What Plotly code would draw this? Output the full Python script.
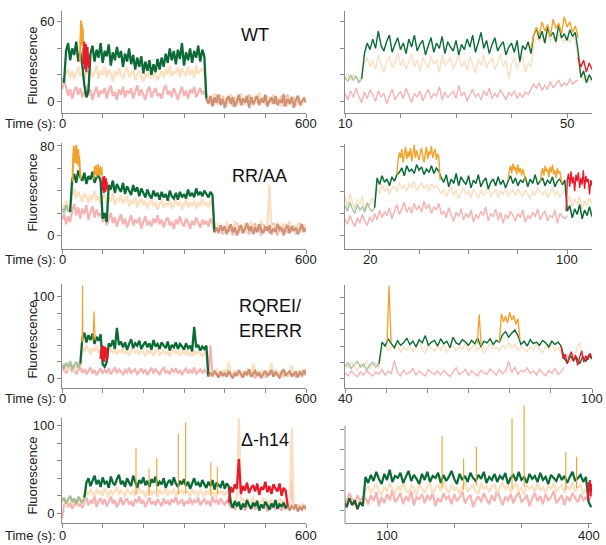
import plotly.graph_objects as go

W, H = 606, 545
FONT = "Arial, 'Liberation Sans', sans-serif"

# trace colours
GREEN = "#0B6A36"
PALE = "rgba(118,160,120,0.6)"
OLIVE = "#2F5A34"
TAIL = "rgba(196,128,98,0.8)"
PEACH = "#FADFC0"
PINK = "#F4B4B4"
ORANGE = "#F1A22C"
RED = "#E81A2B"
AXIS = "#8A8A8A"

# ---------------- WT ----------------
WT_L_T0, WT_L_DT = 0, 5
WT_L_GREEN = [17, 14, 38, 44, 31, 40, 35, 45, 30, 37,
              27, 12, 3, 8, 36, 42, 30, 39, 33, 44,
              29, 38, 34, 43, 27, 37, 31, 41, 33, 38,
              26, 36, 30, 40, 28, 35, 24, 33, 26, 34,
              21, 30, 23, 31, 20, 28, 22, 32, 24, 33,
              26, 36, 29, 40, 31, 38, 28, 39, 32, 44,
              27, 37, 31, 40, 29, 38, 33, 42, 30, 39,
              34, 2, -2, 4, -4, 3, -1, 5, -3, 2,
              -5, 1, 4, -2, 3, -4, 0, 5, -3, 2,
              -1, 4, -5, 3, -2, 1, 4, -3, 2, -1,
              5, -4, 0, 3, -2, 4, -3, 1, -1, 5,
              -4, 2, -2, 3, -5, 1, 4, -3, 0, 2, -1]
WT_L_PEACH = [13, 19, 21, 24, 18, 23, 17, 22, 26, 19,
              21, 16, 24, 20, 25, 18, 22, 27, 17, 23,
              20, 26, 18, 24, 21, 15, 23, 19, 25, 20,
              17, 22, 26, 18, 21, 24, 16, 20, 23, 18,
              15, 21, 18, 24, 17, 20, 22, 16, 19, 23,
              18, 24, 20, 27, 19, 23, 21, 26, 18, 25,
              22, 19, 26, 20, 24, 18, 27, 21, 23, 25,
              20, 1, 4, -2, 3, 6, -3, 2, 5, -1,
              3, -4, 2, 5, -1, 4, -3, 1, 6, -2,
              2, 5, -3, 0, 4, -2, 3, 7, -1, 2,
              -3, 4, 1, -2, 5, 0, 3, -4, 2, 6,
              -1, 3, -3, 4, 1, -2, 5, 0, -4, 3, 1]
WT_L_PINK = [9, 15, 11, 4, 9, 2, 8, 11, 5, 10,
             3, 7, 12, 4, 9, 1, 7, 11, 3, 8,
             6, 10, 2, 8, 12, 4, 7, 1, 9, 5,
             11, 3, 8, 6, 10, 2, 7, 12, 4, 9,
             5, 1, 8, 11, 3, 7, 10, 4, 6, 2,
             9, 12, 5, 8, 3, 10, 6, 1, 7, 11,
             4, 8, 2, 9, 6, 11, 3, 7, 10, 5,
             8, 3, -1, 4, -3, 2, 5, -2, 1, 4,
             -2, 3, 0, 5, -4, 2, -1, 4, 1, -3,
             3, -1, 5, 2, -3, 4, 0, -2, 3, 1,
             4, -3, 2, 0, 5, -2, 3, -1, 4, -4,
             2, 5, -2, 1, 3, -3, 4, 0, -1, 3, 0]
WT_L_BIND, WT_L_STOP = 5, 355
WT_L_ORANGE_T = [44, 45, 46, 47, 48, 49, 50, 51, 52, 53]
WT_L_ORANGE_V = [30, 44, 52, 61, 48, 58, 42, 55, 46, 34]
WT_L_RED_T = [52, 53, 54, 55, 56, 57, 58, 59, 60, 61, 62, 63, 64, 65, 66, 67, 68]
WT_L_RED_V = [28, 40, 33, 45, 24, 38, 30, 43, 22, 36, 27, 41, 31, 35, 25, 33, 29]

WT_R_T0, WT_R_DT = 10, 0.5
WT_R_GREEN = [18, 15, 20, 16, 19, 14, 17, 36, 44, 39,
              47, 40, 53, 42, 38, 45, 50, 37, 43, 48,
              39, 44, 36, 47, 41, 50, 38, 43, 46, 35,
              42, 48, 37, 44, 40, 49, 36, 45, 41, 38,
              46, 35, 43, 39, 47, 41, 50, 37, 44, 52,
              40, 46, 36, 43, 48, 38, 42, 45, 35, 41,
              44, 37, 46, 30, 42, 39, 45, 36, 50, 55,
              47, 53, 44, 56, 49, 52, 45, 58, 48, 51,
              46, 54, 49, 52, 38, 18, 23, 14, 20, 16]
WT_R_PEACH = [17, 21, 16, 20, 18, 15, 19, 28, 33, 26,
              31, 24, 35, 28, 22, 30, 34, 25, 29, 37,
              27, 32, 24, 30, 36, 26, 31, 23, 33, 29,
              25, 34, 28, 31, 22, 35, 27, 30, 33, 24,
              29, 36, 26, 31, 23, 34, 28, 21, 32, 27,
              35, 25, 30, 33, 24, 29, 36, 26, 31, 17,
              28, 33, 25, 30, 34, 22, 29, 26, 42, 48,
              45, 50, 44, 52, 46, 49, 43, 51, 47, 45,
              49, 44, 50, 46, 30, 20, 16, 19, 15, 18]
WT_R_PINK = [6, 1, 8, 3, 10, 4, -1, 7, 2, 9,
             5, 0, 8, 3, 6, -2, 4, 9, 1, 5,
             7, 2, 10, 4, -1, 6, 3, 8, 0, 5,
             9, 2, 6, 4, 11, 1, 7, 3, 5, 8,
             2, 12, 4, 7, 0, 5, 9, 3, 6, 1,
             8, 4, 10, 2, 6, 3, 9, 5, 1, 7,
             4, 8, 2, 6, 3, 7, 5, 9, 13, 10,
             14, 8, 12, 9, 15, 10, 13, 16, 11, 14,
             12, 17, 13, 15, 16]
WT_R_BIND, WT_R_STOP = 13.0, None
WT_R_ORANGE_T = [43.5, 44, 44.5, 45, 45.5, 46, 46.5, 47, 47.5, 48, 48.5, 49,
                 49.5, 50, 50.5, 51, 51.5, 52]
WT_R_ORANGE_V = [40, 50, 56, 50, 60, 53, 58, 49, 62, 55, 59, 51, 64, 56, 60, 52, 57, 48]
WT_R_RED_T = [52, 52.5, 53, 53.5, 54, 54.5]
WT_R_RED_V = [33, 26, 31, 22, 29, 24]

# ---------------- RR/AA ----------------
RR_L_T0, RR_L_DT = 0, 5
RR_L_GREEN = [24, 20, 27, 22, 21, 50, 55, 47, 58, 52,
              49, 56, 46, 53, 50, 57, 47, 52, 54, 48,
              15, 20, 12, 45, 41, 49, 38, 46, 42, 39,
              47, 37, 44, 40, 36, 45, 39, 43, 35, 42,
              38, 34, 41, 36, 33, 40, 35, 38, 32, 39,
              34, 37, 31, 40, 35, 33, 38, 32, 39, 34,
              37, 33, 41, 35, 38, 34, 42, 36, 39, 35,
              40, 37, 34, 39, 36, 3, 7, 2, 9, 4,
              8, 1, 6, 10, 3, 7, 0, 5, 9, 2,
              6, 11, 4, 8, 1, 7, 3, 10, 5, 2,
              8, 4, 9, 1, 6, 3, 10, 5, 7, 0,
              6, 9, 2, 8, 4, 7, 1, 5, 10, 3, 6]
RR_L_PEACH = [28, 22, 31, 24, 26, 36, 42, 33, 39, 35,
              30, 38, 34, 29, 36, 32, 40, 31, 35, 28,
              33, 37, 29, 34, 30, 38, 27, 33, 31, 36,
              28, 32, 35, 26, 31, 29, 34, 25, 30, 33,
              27, 31, 24, 29, 33, 26, 30, 23, 28, 32,
              25, 29, 27, 31, 24, 28, 33, 26, 30, 23,
              28, 32, 25, 29, 27, 31, 24, 30, 26, 33,
              27, 29, 25, 31, 28, 8, 3, 11, 5, 9,
              2, 12, 6, 9, 4, 13, 7, 1, 10, 5,
              11, 3, 8, 12, 5, 2, 9, 6, 13, 4,
              7, 10, 45, 3, 9, 6, 12, 2, 8, 11,
              4, 9, 13, 5, 7, 2, 11, 6, 3, 10, 7]
RR_L_PINK = [14, 19, 10, 17, 12, 22, 28, 18, 25, 15,
             24, 19, 27, 14, 21, 26, 16, 23, 18, 20,
             12, 17, 9, 15, 20, 11, 16, 8, 14, 19,
             10, 15, 7, 13, 18, 9, 14, 11, 16, 6,
             12, 17, 9, 13, 8, 15, 11, 18, 10, 14,
             7, 13, 16, 9, 12, 6, 14, 10, 17, 11,
             8, 15, 12, 6, 13, 9, 16, 11, 7, 14,
             10, 13, 8, 15, 11, 2, 7, 4, 9, 1,
             6, 10, 3, 8, 0, 7, 11, 4, 9, 2,
             8, 5, 1, 9, 6, 11, 3, 7, 0, 10,
             4, 8, 2, 7, 11, 5, 0, 9, 3, 6,
             10, 2, 7, 4, 9, 1, 6, 11, 3, 8, 5]
RR_L_BIND, RR_L_STOP = 20, 375
RR_L_ORANGE1_T = list(range(26, 47))
RR_L_ORANGE1_V = [48, 66, 74, 80, 70, 78, 65, 76, 69, 81, 72, 64, 75, 68, 77, 62,
                  71, 66, 60, 55, 50]
RR_L_ORANGE2_T = list(range(78, 100))
RR_L_ORANGE2_V = [50, 58, 62, 54, 60, 56, 63, 52, 59, 61, 55, 64, 57, 53, 60, 58,
                  62, 54, 59, 56, 61, 52]
RR_L_RED_T = list(range(99, 113))
RR_L_RED_V = [44, 52, 40, 49, 38, 53, 42, 47, 39, 51, 43, 48, 41, 45]

RR_R_T0, RR_R_DT = 10, 1
RR_R_GREEN = [27, 22, 30, 24, 20, 28, 23, 26, 21, 29,
              24, 22, 25, 52, 46, 54, 48, 51, 45, 53,
              49, 55, 57, 61, 54, 63, 58, 60, 56, 64,
              59, 62, 55, 60, 57, 63, 56, 61, 58, 52,
              48, 55, 44, 51, 47, 56, 45, 53, 49, 46,
              54, 43, 50, 47, 55, 44, 49, 52, 42, 48,
              51, 45, 53, 46, 50, 43, 49, 54, 47, 52,
              45, 50, 48, 53, 44, 51, 47, 55, 46, 49,
              52, 45, 50, 47, 53, 44, 49, 51, 46, 50,
              22, 27, 16, 24, 19, 28, 15, 23, 18, 26, 17]
RR_R_PEACH = [35, 26, 38, 30, 24, 33, 28, 36, 22, 31,
              27, 34, 29, 43, 38, 46, 40, 44, 37, 42,
              45, 39, 48, 42, 46, 40, 47, 43, 49, 41,
              44, 48, 42, 46, 40, 47, 43, 45, 41, 38,
              42, 35, 40, 44, 36, 41, 33, 39, 43, 37,
              40, 34, 42, 38, 33, 41, 36, 39, 44, 35,
              38, 42, 34, 40, 37, 43, 35, 39, 41, 36,
              42, 38, 35, 41, 37, 33, 40, 36, 43, 39,
              37, 41, 34, 39, 43, 36, 40, 35, 38, 42,
              30, 36, 26, 33, 28, 35, 24, 31, 27, 34, 29]
RR_R_PINK = [15, 10, 18, 12, 8, 16, 11, 19, 13, 9,
             17, 12, 20, 14, 23, 16, 21, 18, 25, 15,
             22, 28, 19, 24, 30, 21, 26, 20, 29, 23,
             27, 21, 31, 24, 28, 20, 26, 23, 29, 19,
             22, 16, 25, 18, 13, 21, 17, 24, 14, 20,
             16, 23, 12, 19, 15, 22, 18, 26, 13, 20,
             17, 24, 14, 21, 11, 19, 15, 22, 18, 13,
             20, 16, 23, 12, 18, 15, 21, 17, 24, 14,
             19, 22, 13, 18, 16, 23, 11, 20, 17, 15, 18]
RR_R_BIND, RR_R_STOP = 22, None
RR_R_ORANGE1_T = [31 + 0.5 * k for k in range(36)]
RR_R_ORANGE1_V = [55, 68, 75, 70, 78, 66, 73, 80, 69, 76, 71, 79, 67, 74, 82, 70, 77, 72,
                  68, 75, 79, 71, 66, 74, 80, 69, 76, 73, 81, 70, 75, 78, 68, 74, 71, 50]
RR_R_ORANGE2_T = [76 + 0.5 * k for k in range(15)]
RR_R_ORANGE2_V = [50, 58, 63, 56, 65, 59, 62, 55, 64, 57, 61, 54, 60, 56, 49]
RR_R_ORANGE3_T = [89 + 0.5 * k for k in range(19)]
RR_R_ORANGE3_V = [49, 56, 61, 54, 63, 58, 60, 53, 62, 57, 64, 55, 59, 52, 61, 56, 58, 50, 47]
RR_R_RED_T = [99.5 + 0.5 * k for k in range(22)]
RR_R_RED_V = [22, 50, 56, 44, 58, 47, 53, 40, 55, 49, 57, 43, 52, 46, 59, 42, 54, 48,
              51, 37, 50, 45]

# ---------------- RQREI/ERERR ----------------
RQ_L_T0, RQ_L_DT = 0, 5
RQ_L_GREEN = [17, 12, 19, 14, 21, 11, 16, 20, 13, 18,
              49, 56, 44, 53, 47, 55, 42, 51, 46, 54,
              17, 14, 20, 43, 39, 47, 36, 62, 41, 45,
              38, 44, 35, 42, 48, 37, 43, 40, 46, 36,
              41, 45, 38, 43, 35, 47, 39, 42, 36, 44,
              40, 37, 45, 34, 41, 38, 44, 36, 42, 39,
              35, 43, 37, 40, 33, 63, 38, 41, 34, 39,
              36, 40, 2, 7, 3, 9, 5, 1, 8, 4,
              6, 2, 9, 4, 0, 7, 3, 10, 5, 1,
              8, 4, 11, 2, 6, 9, 3, 7, 0, 5,
              9, 3, 6, 10, 2, 8, 4, 1, 7, 11,
              3, 6, 9, 2, 5, 8, 1, 7, 4, 10, 5]
RQ_L_PEACH = [12, 18, 9, 15, 11, 17, 8, 14, 19, 13,
              38, 33, 41, 35, 29, 37, 34, 40, 31, 36,
              30, 35, 28, 33, 38, 31, 36, 29, 34, 32,
              37, 30, 35, 28, 33, 39, 31, 34, 29, 36,
              32, 27, 35, 30, 34, 28, 33, 37, 29, 31,
              35, 29, 33, 27, 32, 36, 30, 34, 28, 33,
              30, 35, 28, 32, 27, 34, 29, 33, 31, 26,
              32, 29, 6, 10, 3, 8, 12, 4, 9, 5,
              11, 3, 20, 7, 2, 10, 5, 8, 1, 9,
              4, 12, 6, 2, 18, 7, 3, 10, 5, 8,
              2, 9, 6, 19, 4, 11, 3, 7, 1, 10,
              6, 3, 8, 16, 5, 9, 2, 7, 4, 11, 6]
RQ_L_PINK = [9, 13, 6, 11, 15, 8, 12, 5, 10, 14,
             7, 11, 5, 9, 13, 6, 10, 4, 8, 12,
             6, 10, 7, 12, 5, 9, 13, 6, 11, 8,
             4, 10, 7, 13, 6, 9, 11, 5, 8, 12,
             7, 10, 4, 9, 12, 6, 11, 8, 5, 10,
             13, 7, 9, 5, 11, 8, 12, 6, 10, 4,
             9, 12, 6, 10, 7, 13, 5, 8, 11, 6,
             10, 7, 4, 40, 2, 8, 5, 1, 7, 3,
             6, 2, 9, 4, 0, 7, 3, 8, 5, 1,
             7, 4, 9, 2, 6, 0, 8, 3, 5, 9,
             1, 6, 4, 8, 2, 7, 5, 0, 9, 3,
             6, 2, 8, 4, 7, 1, 5, 9, 3, 6, 4]
RQ_L_BIND, RQ_L_STOP = 45, 360
RQ_L_ORANGE1_T = [49, 50, 50.5, 51, 52]
RQ_L_ORANGE1_V = [44, 58, 114, 52, 46]
RQ_L_ORANGE2_T = [76, 78, 79, 80, 82]
RQ_L_ORANGE2_V = [46, 70, 82, 64, 47]
RQ_L_RED_T = list(range(95, 113))
RQ_L_RED_V = [24, 35, 28, 38, 22, 33, 40, 26, 36, 20, 31, 39, 25, 34, 29, 37, 23, 30]

RQ_R_T0, RQ_R_DT = 40, 0.75
RQ_R_GREEN = [15, 19, 12, 17, 21, 14, 18, 11, 16, 20,
              14, 18, 45, 40, 49, 43, 38, 47, 41, 44,
              50, 42, 46, 39, 48, 44, 53, 41, 45, 47,
              40, 49, 43, 46, 38, 51, 44, 42, 48, 45,
              41, 47, 43, 50, 39, 46, 44, 49, 42, 47,
              45, 54, 58, 51, 56, 60, 53, 42, 46, 40,
              48, 43, 45, 41, 47, 44, 39, 46, 42, 45,
              40, 25, 19, 28, 22, 26, 18, 27, 21, 29, 24]
RQ_R_PEACH = [17, 13, 20, 15, 11, 18, 14, 22, 12, 16,
              19, 13, 37, 43, 34, 40, 36, 44, 32, 39,
              35, 41, 33, 38, 45, 36, 31, 42, 37, 34,
              40, 35, 43, 32, 38, 41, 34, 39, 36, 44,
              33, 38, 42, 35, 40, 31, 37, 43, 36, 39,
              34, 41, 37, 44, 38, 42, 35, 40, 36, 33,
              39, 35, 42, 37, 31, 40, 36, 43, 34, 38,
              33, 24, 30, 21, 27, 35, 45, 29, 20, 26, 31]
RQ_R_PINK = [7, 3, 9, 5, 2, 8, 4, 10, 6, 3,
             8, 5, 11, 4, 9, 6, 22, 7, 3, 10,
             5, 8, 12, 4, 9, 6, 3, 11, 7, 5,
             9, 4, 10, 6, 2, 8, 13, 5, 7, 11,
             4, 9, 6, 3, 10, 7, 5, 12, 8, 4,
             11, 6, 9, 21, 7, 14, 5, 10, 8, 13,
             6, 9, 4, 11, 7, 3, 10, 6, 12, 5,
             8, 14]
RQ_R_BIND, RQ_R_STOP = 48.25, None
RQ_R_ORANGE1_T = [50.2, 50.7, 51.2]
RQ_R_ORANGE1_V = [44, 115, 45]
RQ_R_ORANGE2_T = [72.1, 72.6, 73.1]
RQ_R_ORANGE2_V = [42, 79, 40]
RQ_R_ORANGE3_T = [77.5, 78, 78.5, 79, 79.5, 80, 80.5, 81, 81.5, 82, 82.5]
RQ_R_ORANGE3_V = [45, 80, 70, 77, 69, 82, 72, 78, 67, 74, 48]
RQ_R_RED_T = [92.5 + 0.5 * k for k in range(16)]
RQ_R_RED_V = [40, 24, 30, 18, 27, 33, 21, 29, 16, 26, 34, 20, 28, 23, 31, 25]

# ---------------- Δ-h14 ----------------
DH_L_T0, DH_L_DT = 0, 5
DH_L_GREEN = [14, 18, 11, 16, 20, 13, 17, 10, 19, 15,
              12, 18, 35, 40, 31, 37, 43, 33, 38, 30,
              41, 34, 36, 29, 42, 35, 32, 39, 44, 33,
              37, 30, 40, 35, 31, 43, 36, 29, 38, 34,
              41, 32, 37, 30, 39, 35, 42, 31, 36, 33,
              40, 29, 35, 38, 32, 41, 34, 30, 37, 33,
              39, 31, 36, 28, 34, 40, 32, 35, 30, 38,
              33, 29, 36, 31, 38, 27, 35, 32, 30, 37,
              28, 34, 31, 12, 6, 14, 8, 13, 4, 11,
              7, 15, 9, 5, 12, 8, 14, 3, 10, 6,
              13, 9, 4, 11, 7, 15, 5, 10, 8, 12,
              6, 9, 3, 8, 5, 10, 2, 7, 4, 9, 5]
DH_L_PEACH = [12, 17, 9, 15, 19, 11, 16, 8, 14, 18,
              10, 15, 25, 21, 28, 23, 19, 27, 22, 26,
              20, 29, 24, 18, 27, 22, 25, 30, 21, 26,
              23, 19, 28, 24, 21, 27, 20, 25, 29, 22,
              26, 18, 24, 28, 21, 25, 23, 19, 27, 22,
              24, 29, 20, 26, 22, 28, 19, 25, 23, 27,
              21, 26, 24, 18, 28, 22, 25, 20, 27, 23,
              19, 26, 22, 28, 21, 24, 18, 27, 23, 25,
              20, 26, 22, 15, 10, 12, 18, 109, 14, 16,
              11, 17, 8, 13, 19, 10, 15, 7, 12, 18,
              9, 14, 11, 16, 8, 13, 10, 17, 12, 15,
              9, 12, 6, 98, 8, 4, 10, 5, 11, 7, 6]
DH_L_PINK = [-6, 9, 14, 7, 12, 5, 10, 15, 8, 11,
             6, 13, 18, 9, 15, 11, 20, 7, 14, 17,
             10, 16, 8, 13, 19, 11, 15, 7, 12, 18,
             9, 14, 17, 10, 13, 8, 16, 12, 19, 11,
             15, 7, 13, 18, 10, 14, 9, 16, 12, 8,
             17, 11, 14, 9, 16, 12, 19, 10, 13, 15,
             8, 14, 11, 17, 10, 15, 12, 18, 9, 13,
             16, 11, 14, 8, 19, 12, 15, 10, 17, 13,
             9, 15, 12, 6, 10, 4, 8, 11, 5, 9,
             3, 8, 12, 6, 10, 4, 9, 7, 11, 5,
             8, 2, 10, 6, 9, 4, 12, 7, 3, 9,
             5, 8, 4, 38, 6, 10, 3, 7, 5, 9, 4]
DH_L_BIND, DH_L_STOP = 55, 555
DH_L_RED_T = list(range(410, 556, 5))
DH_L_RED_V = [12, 30, 24, 33, 28, 62, 22, 31, 26, 35, 23, 29, 32, 25, 34, 21, 30, 27,
              36, 24, 31, 22, 33, 28, 25, 34, 20, 29, 26, 8]

DH_R_T0, DH_R_DT = 36, 4
DH_R_GREEN = [9, 3, 12, 5, 10, 1, 8, 4, 33, 27,
              35, 29, 38, 31, 26, 36, 30, 40, 28, 34,
              32, 37, 27, 33, 39, 29, 35, 31, 26, 36,
              30, 38, 28, 34, 32, 37, 27, 35, 29, 33,
              39, 31, 26, 36, 30, 34, 28, 37, 32, 29,
              35, 31, 38, 27, 33, 30, 36, 28, 34, 31,
              37, 26, 32, 35, 29, 38, 30, 33, 27, 36,
              31, 34, 28, 37, 30, 33, 26, 35, 32, 29,
              36, 30, 34, 27, 33, 38, 29, 32, 35, 28,
              33, 8, 3]
DH_R_PEACH = [10, 4, 13, 6, 11, 2, 9, 5, 20, 24,
              17, 22, 26, 19, 15, 23, 18, 27, 21, 16,
              24, 19, 28, 20, 17, 25, 22, 14, 26, 21,
              18, 23, 27, 16, 22, 25, 19, 28, 21, 17,
              26, 20, 23, 15, 24, 28, 18, 22, 25, 19,
              16, 27, 21, 24, 18, 23, 26, 17, 22, 28,
              20, 25, 17, 23, 27, 19, 22, 15, 26, 21,
              24, 18, 28, 20, 23, 16, 25, 21, 27, 19,
              22, 26, 17, 24, 20, 28, 18, 23, 25, 16,
              21, 14, 18]
DH_R_PINK = [14, 8, 17, 11, 5, 15, 9, 13, 12, 6,
             15, 9, 18, 4, 13, 7, 16, 10, 20, 8,
             12, 17, 6, 14, 9, 19, 5, 13, 11, 16,
             7, 15, 10, 18, 4, 12, 8, 17, 11, 14,
             6, 16, 9, 13, 19, 7, 12, 15, 3, 10,
             14, 8, 17, 11, 6, 15, 9, 20, 12, 5,
             13, 10, 16, 7, 14, 18, 8, 11, 15, 4,
             12, 17, 9, 14, 6, 16, 10, 13, 19, 7,
             11, 15, 5, 14, 9, 17, 12, 8, 16, 10,
             13, 9, 15]
DH_R_BIND, DH_R_STOP = 64, None
DH_R_RED_T = [399, 400, 401, 402, 403, 404, 405]
DH_R_RED_V = [10, 28, 18, 30, 14, 26, 20]

# brief orange bursts seen in the Δ-h14 recording (time, base, peak)
DH_SPIKE_T = [182, 214, 233, 286, 304, 366, 382]
DH_SPIKE_BASE = [22, 20, 24, 21, 23, 20, 22]
DH_SPIKE_PEAK = [74, 51, 63, 91, 104, 58, 53]

ROW_NAMES = ["WT", "RR/AA", "RQREI/", "ERERR", "Δ-h14"]


def fx(px):
    return px / W


def fy(py):
    return 1 - py / H


# panel geometry: x pixels, y pixels (top, axis line), ranges, ticks, trace width
PANELS = {
    1: dict(xp=(62, 306), yp=(7, 110), xr=(0, 600), yr=(-9, 68.25),
            xt=[0, 100, 200, 300, 400, 500, 600], xl=["0", "", "", "", "", "", "600"],
            yt=[0, 20, 40, 60], yl=["0", "", "", "60"], lw=2.3),
    2: dict(xp=(345, 592), yp=(7, 110), xr=(10, 54.5), yr=(-9, 68.25),
            xt=[10, 20, 30, 40, 50], xl=["10", "", "", "", "50"],
            yt=[0, 20, 40, 60], yl=None, lw=1.4),
    3: dict(xp=(62, 306), yp=(140, 247), xr=(0, 600), yr=(-12.4, 82.7),
            xt=[0, 100, 200, 300, 400, 500, 600], xl=["0", "", "", "", "", "", "600"],
            yt=[0, 20, 40, 60, 80], yl=["0", "", "", "", "80"], lw=2.3),
    4: dict(xp=(345, 592), yp=(141, 247), xr=(10, 110), yr=(-12.4, 82.7),
            xt=[20, 40, 60, 80, 100], xl=["20", "", "", "", "100"],
            yt=[0, 20, 40, 60, 80], yl=None, lw=1.5),
    5: dict(xp=(62, 306), yp=(282, 387), xr=(0, 600), yr=(-12.2, 115.9),
            xt=[0, 100, 200, 300, 400, 500, 600], xl=["0", "", "", "", "", "", "600"],
            yt=[0, 20, 40, 60, 80, 100], yl=["0", "", "", "", "", "100"], lw=2.3),
    6: dict(xp=(345, 592), yp=(283, 387), xr=(40, 100), yr=(-12.2, 115.9),
            xt=[40, 50, 60, 70, 80, 90, 100], xl=["40", "", "", "", "", "", "100"],
            yt=[0, 20, 40, 60, 80, 100], yl=None, lw=1.4),
    7: dict(xp=(62, 306), yp=(417, 523), xr=(0, 600), yr=(-11.4, 109),
            xt=[0, 100, 200, 300, 400, 500, 600], xl=["0", "", "", "", "", "", "600"],
            yt=[0, 20, 40, 60, 80, 100], yl=["0", "", "", "", "", "100"], lw=2.3),
    8: dict(xp=(345, 592), yp=(404, 523), xr=(37.5, 405), yr=(-12.8, 104.2),
            xt=[100, 200, 300, 400], xl=["100", "", "", "400"],
            yt=[0, 20, 40, 60, 80], yl=None, lw=2.2),
}
LABEL_ROW_Y = {1: 120, 2: 120, 3: 257, 4: 257, 5: 397, 6: 397, 7: 535, 8: 535}

fig = go.Figure()


def ax(n, kind):
    return kind if n == 1 else f"{kind}{n}"


def line(n, t, v, color, width=1.0):
    fig.add_trace(go.Scatter(
        x=t, y=v, mode="lines",
        line=dict(color=color, width=width, simplify=False),
        xaxis=ax(n, "x"), yaxis=ax(n, "y"), hoverinfo="skip", showlegend=False))


def times(t0, dt, values):
    return [t0 + dt * i for i in range(len(values))]


def channel_panel(n, t0, dt, green, peach, pink, bind_t, stop_t, pre_color=PALE):
    lw = PANELS[n]["lw"]
    line(n, times(t0, dt, pink), pink, PINK, lw)
    line(n, times(t0, dt, peach), peach, PEACH, lw)
    tg = times(t0, dt, green)
    b = int(round((bind_t - t0) / dt))
    e = len(green) - 1 if stop_t is None else int(round((stop_t - t0) / dt))
    line(n, tg[:b + 1], green[:b + 1], pre_color, lw)
    line(n, tg[b:e + 1], green[b:e + 1], GREEN, lw)
    if stop_t is not None:
        line(n, tg[e:], green[e:], TAIL, lw)


def spikes(n, ts, bases, peaks):
    xs, ys = [], []
    for t, b, p in zip(ts, bases, peaks):
        xs += [t, t, None]
        ys += [b, p, None]
    line(n, xs, ys, ORANGE, 1.1)


# WT
channel_panel(1, WT_L_T0, WT_L_DT, WT_L_GREEN, WT_L_PEACH, WT_L_PINK, WT_L_BIND, WT_L_STOP)
line(1, WT_L_ORANGE_T, WT_L_ORANGE_V, ORANGE, 2.0)
line(1, WT_L_RED_T, WT_L_RED_V, RED, 2.0)
channel_panel(2, WT_R_T0, WT_R_DT, WT_R_GREEN, WT_R_PEACH, WT_R_PINK, WT_R_BIND, WT_R_STOP)
line(2, WT_R_ORANGE_T, WT_R_ORANGE_V, ORANGE, 1.4)
line(2, WT_R_RED_T, WT_R_RED_V, RED, 1.4)

# RR/AA
channel_panel(3, RR_L_T0, RR_L_DT, RR_L_GREEN, RR_L_PEACH, RR_L_PINK, RR_L_BIND, RR_L_STOP)
line(3, RR_L_ORANGE1_T, RR_L_ORANGE1_V, ORANGE, 2.0)
line(3, RR_L_ORANGE2_T, RR_L_ORANGE2_V, ORANGE, 1.4)
line(3, RR_L_RED_T, RR_L_RED_V, RED, 2.0)
channel_panel(4, RR_R_T0, RR_R_DT, RR_R_GREEN, RR_R_PEACH, RR_R_PINK, RR_R_BIND, RR_R_STOP)
line(4, RR_R_ORANGE1_T, RR_R_ORANGE1_V, ORANGE, 1.4)
line(4, RR_R_ORANGE2_T, RR_R_ORANGE2_V, ORANGE, 1.4)
line(4, RR_R_ORANGE3_T, RR_R_ORANGE3_V, ORANGE, 1.4)
line(4, RR_R_RED_T, RR_R_RED_V, RED, 1.4)

# RQREI/ERERR
channel_panel(5, RQ_L_T0, RQ_L_DT, RQ_L_GREEN, RQ_L_PEACH, RQ_L_PINK, RQ_L_BIND, RQ_L_STOP)
line(5, RQ_L_ORANGE1_T, RQ_L_ORANGE1_V, ORANGE, 1.2)
line(5, RQ_L_ORANGE2_T, RQ_L_ORANGE2_V, ORANGE, 1.2)
line(5, RQ_L_RED_T, RQ_L_RED_V, RED, 2.2)
channel_panel(6, RQ_R_T0, RQ_R_DT, RQ_R_GREEN, RQ_R_PEACH, RQ_R_PINK, RQ_R_BIND, RQ_R_STOP)
line(6, RQ_R_ORANGE1_T, RQ_R_ORANGE1_V, ORANGE, 1.3)
line(6, RQ_R_ORANGE2_T, RQ_R_ORANGE2_V, ORANGE, 1.3)
line(6, RQ_R_ORANGE3_T, RQ_R_ORANGE3_V, ORANGE, 1.4)
line(6, RQ_R_RED_T, RQ_R_RED_V, RED, 1.4)

# Δ-h14
channel_panel(7, DH_L_T0, DH_L_DT, DH_L_GREEN, DH_L_PEACH, DH_L_PINK, DH_L_BIND, DH_L_STOP)
line(7, DH_L_RED_T, DH_L_RED_V, RED, 2.3)
spikes(7, DH_SPIKE_T, DH_SPIKE_BASE, DH_SPIKE_PEAK)
channel_panel(8, DH_R_T0, DH_R_DT, DH_R_GREEN, DH_R_PEACH, DH_R_PINK, DH_R_BIND, DH_R_STOP,
              pre_color=OLIVE)
line(8, DH_R_RED_T, DH_R_RED_V, RED, 2.0)
spikes(8, DH_SPIKE_T, DH_SPIKE_BASE, DH_SPIKE_PEAK)

# axes
layout = dict(width=W, height=H, margin=dict(l=0, r=0, t=0, b=0),
              paper_bgcolor="white", plot_bgcolor="white",
              font=dict(family=FONT, size=13, color="#222"))
for n, p in PANELS.items():
    layout[ax(n, "xaxis")] = dict(
        domain=[fx(p["xp"][0]), fx(p["xp"][1])], range=list(p["xr"]),
        anchor=ax(n, "y"), showgrid=False, zeroline=False, showline=True,
        linecolor=AXIS, linewidth=1, ticks="outside", ticklen=4, tickcolor=AXIS,
        tickvals=p["xt"], showticklabels=False)
    layout[ax(n, "yaxis")] = dict(
        domain=[fy(p["yp"][1]), fy(p["yp"][0])], range=list(p["yr"]),
        anchor=ax(n, "x"), showgrid=False, zeroline=False, showline=(n != 8),
        linecolor=AXIS, linewidth=1, ticks="outside", ticklen=4, tickcolor=AXIS,
        tickvals=p["yt"], ticktext=p["yl"] if p["yl"] else [""] * len(p["yt"]),
        showticklabels=bool(p["yl"]), tickfont=dict(size=13, color="#222"))
fig.update_layout(**layout)

# time labels under each panel's axis ends
for n, p in PANELS.items():
    for v, lab in zip(p["xt"], p["xl"]):
        if lab:
            fig.add_annotation(text=lab, x=v, xref=ax(n, "x"), y=fy(LABEL_ROW_Y[n]),
                               yref="paper", xanchor="center", yanchor="middle",
                               showarrow=False, font=dict(size=13, color="#222"))

# y axis line of the last panel stops below the tallest burst
fig.add_shape(type="line", xref="paper", yref="paper",
              x0=fx(345), x1=fx(345), y0=fy(523), y1=fy(425),
              line=dict(color=AXIS, width=1))

# axis titles and construct names
ROW_CENTRES = [62, 190, 338, 475]
AXIS_ROWS = [120, 257, 397, 535]
for yc in ROW_CENTRES:
    fig.add_annotation(text="Fluorescence", x=fx(33), y=fy(yc), xref="paper", yref="paper",
                       xanchor="center", yanchor="middle", textangle=-90,
                       showarrow=False, font=dict(size=13, color="#222"))
for yt in AXIS_ROWS:
    fig.add_annotation(text="Time (s):", x=fx(58), y=fy(yt), xref="paper", yref="paper",
                       xanchor="right", yanchor="middle", showarrow=False,
                       font=dict(size=13, color="#222"))

NAME_POS = [(255, 31, "center"), (259, 173, "center"), (237, 304, "left"),
            (237, 329, "left"), (265, 439, "center")]
for name, (x, y, anchor) in zip(ROW_NAMES, NAME_POS):
    fig.add_annotation(text=name, x=fx(x), y=fy(y), xref="paper", yref="paper",
                       xanchor=anchor, yanchor="middle", showarrow=False,
                       font=dict(size=18, color="#111"))

fig.write_html("out.html")
